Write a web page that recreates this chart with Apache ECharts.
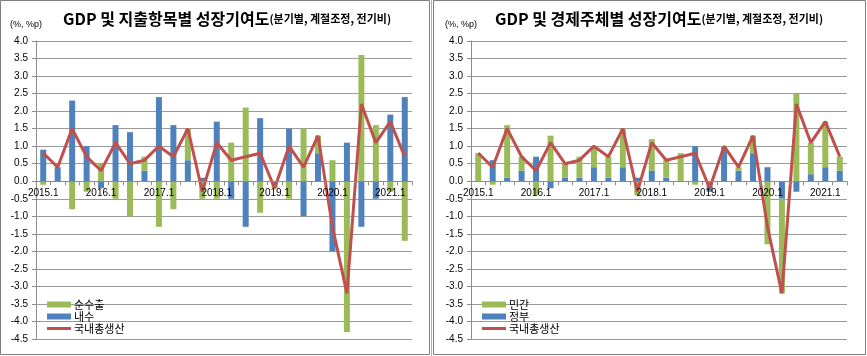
<!DOCTYPE html>
<html>
<head>
<meta charset="utf-8">
<script src="https://cdn.jsdelivr.net/npm/echarts@6/dist/echarts.min.js"></script>
<style>
html,body{margin:0;padding:0;background:#fff;}
#c{width:867px;height:356px;}
</style>
</head>
<body>
<div id="c"></div>
<script>
// ---- data ----
var categories = ['2015.1','2015.2','2015.3','2015.4','2016.1','2016.2','2016.3','2016.4',
  '2017.1','2017.2','2017.3','2017.4','2018.1','2018.2','2018.3','2018.4',
  '2019.1','2019.2','2019.3','2019.4','2020.1','2020.2','2020.3','2020.4','2021.1','2021.2'];
var gdp = [0.8,0.4,1.5,0.7,0.3,1.1,0.5,0.6,1.0,0.7,1.5,-0.3,1.1,0.6,0.7,0.8,-0.2,1.0,0.4,1.3,-1.3,-3.2,2.2,1.1,1.7,0.7];
// left panel: 지출항목별
var domestic = [0.9,0.4,2.3,1.0,-0.2,1.6,1.4,0.3,2.4,1.6,0.6,0.1,1.7,-0.5,-1.3,1.8,-0.1,1.5,-1.0,0.8,-2.0,1.1,-1.3,-0.5,1.9,2.4];
var netExport = [-0.1,0.0,-0.8,-0.3,0.5,-0.5,-1.0,0.4,-1.3,-0.8,0.9,-0.5,-0.5,1.1,2.1,-0.9,-0.1,-0.5,1.5,0.5,0.6,-4.3,3.6,1.6,-0.3,-1.7];
// right panel: 경제주체별
var government = [0.0,0.6,0.1,0.3,0.7,-0.2,0.1,0.1,0.4,0.1,0.4,0.1,0.3,0.1,0.0,1.0,-0.3,0.9,0.3,0.8,0.4,-0.5,-0.3,0.2,0.4,0.3];
var privateSec = [0.8,-0.1,1.5,0.4,-0.4,1.3,0.4,0.6,0.6,0.6,1.1,-0.4,0.9,0.5,0.8,-0.1,0.0,0.1,0.1,0.5,-1.8,-2.7,2.5,0.9,1.3,0.4];
var yMin = -4.5, yMax = 4.0, yStep = 0.5;

var GREEN = '#9BBB59', BLUE = '#4F81BD', RED = '#C0504D';
var NUM_FONT = 'Liberation Sans';
var KR_FONT = 'Noto Sans CJK KR';
var GRID_H = 298;
// place the category axis on the zero line of the value scale
var zeroOffset = -(0 - yMin) / (yMax - yMin) * GRID_H;

function xAxis(gi){
  return {
    type:'category', gridIndex:gi, data:categories, boundaryGap:true,
    position:'bottom', offset:zeroOffset, z:10,
    axisLine:{onZero:false, lineStyle:{color:'#8c8c8c', width:1}},
    axisTick:{show:true, interval:0, length:4, lineStyle:{color:'#8c8c8c'}},
    axisLabel:{interval:3, margin:7, fontSize:10, fontFamily:NUM_FONT, color:'#000'},
    splitLine:{show:false}
  };
}
function yAxis(gi){
  return {
    type:'value', gridIndex:gi, min:yMin, max:yMax, interval:yStep,
    axisLine:{show:true, lineStyle:{color:'#8c8c8c'}},
    axisTick:{show:true, length:4, lineStyle:{color:'#8c8c8c'}},
    axisLabel:{margin:8, fontSize:10, fontFamily:NUM_FONT, color:'#000',
      formatter:function(v){return v.toFixed(1);}},
    splitLine:{show:true, lineStyle:{color:'#9a9a9a', width:1}}
  };
}
function bar(name, data, color, gi, stack){
  return {name:name, type:'bar', xAxisIndex:gi, yAxisIndex:gi, stack:stack, data:data,
    barWidth:6, itemStyle:{color:color}, emphasis:{disabled:true}, animation:false};
}
function line(gi){
  return {name:'국내총생산', type:'line', xAxisIndex:gi, yAxisIndex:gi, data:gdp,
    symbol:'none', showSymbol:false, lineStyle:{color:RED, width:3}, itemStyle:{color:RED},
    z:5, animation:false};
}
var titleRich = {
  a:{fontSize:16, fontWeight:'bold', fontFamily:KR_FONT, color:'#000'},
  b:{fontSize:11, fontWeight:'bold', fontFamily:KR_FONT, color:'#000', padding:[0,0,1,0]}
};
var LINE_ICON = 'path://M0,0 L24,0 L24,0.01 L0,0.01 Z M0,1.6 L24,1.6 L24,4.4 L0,4.4 Z M0,5.99 L24,5.99 L24,6 L0,6 Z';
function legend(left, names){
  return {
    orient:'vertical', left:left, top:294, itemWidth:24, itemHeight:6, itemGap:1,
    textStyle:{fontSize:11, fontFamily:KR_FONT, color:'#000', padding:[0,0,0,-2]},
    data:names, selectedMode:false
  };
}

var chart = echarts.init(document.getElementById('c'), null, {renderer:'canvas'});
chart.setOption({
  animation:false,
  backgroundColor:'#fff',
  title:[
    {left:58, top:6, text:'{a|GDP 및 지출항목별 성장기여도}{b|(분기별, 계절조정, 전기비)}', textStyle:{rich:titleRich}},
    {left:490, top:6, text:'{a|GDP 및 경제주체별 성장기여도}{b|(분기별, 계절조정, 전기비)}', textStyle:{rich:titleRich}}
  ],
  grid:[
    {left:36, top:41, width:376, height:GRID_H},
    {left:471, top:41, width:376, height:GRID_H}
  ],
  xAxis:[xAxis(0), xAxis(1)],
  yAxis:[yAxis(0), yAxis(1)],
  legend:[
    legend(42, [{name:'순수출', icon:'rect'},{name:'내수', icon:'rect'},{name:'국내총생산', icon:LINE_ICON}]),
    legend(477, [{name:'민간', icon:'rect'},{name:'정부', icon:'rect'},{name:'국내총생산', icon:LINE_ICON}])
  ],
  series:[
    bar('내수', domestic, BLUE, 0, 'L'),
    bar('순수출', netExport, GREEN, 0, 'L'),
    line(0),
    bar('정부', government, BLUE, 1, 'R'),
    bar('민간', privateSec, GREEN, 1, 'R'),
    line(1)
  ],
  graphic:[
    {type:'rect', shape:{x:0.5, y:0.5, width:429, height:354}, style:{fill:'none', stroke:'#7f7f7f', lineWidth:1}, silent:true},
    {type:'rect', shape:{x:433.5, y:0.5, width:432, height:354}, style:{fill:'none', stroke:'#7f7f7f', lineWidth:1}, silent:true},
    {type:'line', shape:{x1:431.5, y1:0, x2:431.5, y2:356}, style:{stroke:'#b0b0b0', lineWidth:1}, silent:true},
    {type:'text', left:10, top:20, style:{text:'(%, %p)', fontSize:9, fontFamily:NUM_FONT, fill:'#000'}},
    {type:'text', left:445, top:20, style:{text:'(%, %p)', fontSize:9, fontFamily:NUM_FONT, fill:'#000'}}
  ]
});
</script>
</body>
</html>
